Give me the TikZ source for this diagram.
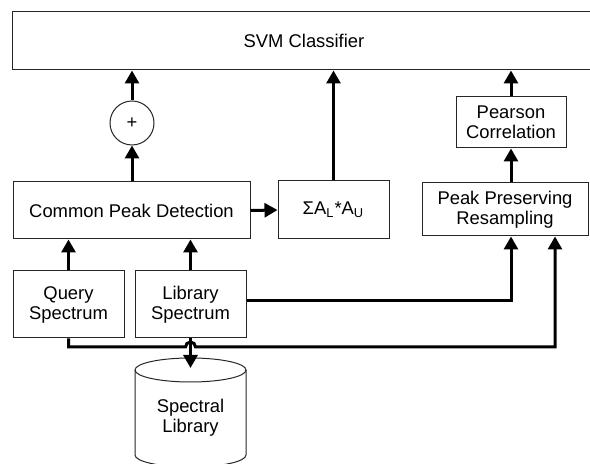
\documentclass[tikz,border=0pt]{standalone}
\usepackage{fontspec}
\setmainfont{Liberation Sans}
\usepackage{tikz}
\usetikzlibrary{arrows.meta,calc}

\begin{document}
\begin{tikzpicture}[x=0.5pt,y=-0.5pt,
    every node/.style={font=\fontsize{9.2pt}{10pt}\selectfont},
    blk/.style={draw=black!85,line width=0.5pt,align=center,inner sep=0pt},
    arr/.style={line width=1.5pt,-{Triangle[length=6.5pt,width=7pt]}},
    bus/.style={line width=1.5pt}]
    \useasboundingbox (0,0) rectangle (590,464);
    % blocks
    \node[blk,minimum width=292pt,minimum height=29pt] (svm) at (304,41) {SVM Classifier};
    \node[blk,circle,minimum size=22pt] (plus) at (132,123) {+};
    \node[blk,minimum width=118.5pt,minimum height=28.5pt] (cpd) at (131.5,210.5) {Common Peak Detection};
    \node[blk,minimum width=55.5pt,minimum height=29pt] (sum) at (333.5,210) {ΣA\textsubscript{L}*A\textsubscript{U}};
    \node[blk,minimum width=83pt,minimum height=26.5pt] (ppr) at (505,209.5) {Peak Preserving\\Resampling};
    \node[blk,minimum width=55pt,minimum height=25.5pt] (pc) at (511,122.5) {Pearson\\Correlation};
    \node[blk,minimum width=55.5pt,minimum height=33.5pt] (qs) at (68.5,304.5) {Query\\Spectrum};
    \node[blk,minimum width=55.5pt,minimum height=33.5pt] (ls) at (190.5,304.5) {Library\\Spectrum};
    % spectral library (cylinder)
    \draw[draw=black!85,line width=0.5pt] (190.5,370) ellipse [x radius=27.75pt,y radius=6pt];
    \draw[draw=black!85,line width=0.5pt] (135,370) -- (135,455)
        arc[start angle=180,end angle=360,x radius=27.75pt,y radius=6pt] -- (246,370);
    \node[align=center] (db) at (190.5,418) {Spectral\\Library};
    \coordinate (dbtop) at (190.5,368);
    \coordinate (hopL) at (185.5,347);
    \coordinate (busR) at (555,347);
    % connectors
    \draw[arr] (qs.north) -- (qs.north |- cpd.south);
    \draw[arr] (ls.north) -- (ls.north |- cpd.south);
    \draw[arr] (plus.south |- cpd.north) -- (plus.south);
    \draw[arr] (plus.north) -- (plus.north |- svm.south);
    \draw[arr] (cpd.east) -- (sum.west);
    \draw[arr] (sum.north) -- (sum.north |- svm.south);
    \draw[arr] (pc.south |- ppr.north) -- (pc.south);
    \draw[arr] (pc.north) -- (pc.north |- svm.south);
    \draw[arr] ([yshift=2pt]ls.east) -| (pc.south |- ppr.south);
    \draw[arr] (qs.south) |- (hopL) arc[start angle=180,end angle=0,radius=2.5pt]
        -- (busR) -- (busR |- ppr.south);
    \draw[arr] (ls.south) -- (dbtop);
\end{tikzpicture}
\end{document}
